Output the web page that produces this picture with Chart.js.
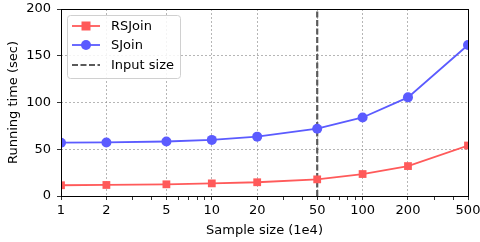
<!DOCTYPE html>
<html>
<head>
<meta charset="utf-8">
<script src="https://cdn.jsdelivr.net/npm/chart.js@4.4.1/dist/chart.umd.min.js"></script>
<style>
  html, body { margin: 0; padding: 0; background: #fff; }
  #wrap { position: relative; width: 480px; height: 242px; }
</style>
</head>
<body>
<div id="wrap"><canvas id="chart" width="480" height="242"></canvas></div>
<script>
// ---- data ----
const sampleSizes = [1, 2, 5, 10, 20, 50, 100, 200, 500];
const rsjoinTimes = [11.5, 11.8, 12.5, 13.5, 14.7, 17.8, 23.5, 32, 54];
const sjoinTimes  = [57, 57.3, 58.3, 60, 63.5, 72, 84, 105.5, 161.5];
const inputSize = 50;
const yRange = [0, 200];
const xTickLabels = [1, 2, 5, 10, 20, 50, 100, 200, 500];
const xMinorTicks = [3, 4, 6, 7, 8, 9, 30, 40, 60, 70, 80, 90, 300, 400];
const yTicks = [0, 50, 100, 150, 200];

const RED = '#ff5a5a';
const BLUE = '#5b5bff';
const GRAY = '#5a5a5a';
const FONT = "'DejaVu Sans', sans-serif";
const FS = 13;

const pts = (ys) => sampleSizes.map((x, i) => ({ x, y: ys[i] }));

// frame (all four spines) + legend with line+marker samples
const framePlugin = {
  id: 'frame',
  afterDraw(chart) {
    const { ctx, chartArea: a } = chart;
    ctx.save();
    ctx.strokeStyle = '#000';
    ctx.lineWidth = 1;
    ctx.strokeRect(Math.round(a.left) + 0.5, Math.round(a.top) + 0.5,
      Math.round(a.right - a.left), Math.round(a.bottom - a.top));

    // legend
    const bx = 67, by = 15, bw = 113, bh = 63;
    ctx.fillStyle = 'rgba(255,255,255,0.85)';
    ctx.strokeStyle = '#d0d0d0';
    ctx.beginPath();
    ctx.roundRect(bx + 0.5, by + 0.5, bw, bh, 3);
    ctx.fill();
    ctx.stroke();

    const rows = [26, 45, 65];
    chart.data.datasets.forEach((ds, i) => {
      const y = rows[i];
      ctx.save();
      ctx.strokeStyle = ds.borderColor;
      ctx.lineWidth = ds.borderWidth;
      ctx.setLineDash(ds.borderDash || []);
      ctx.beginPath();
      ctx.moveTo(72, y);
      ctx.lineTo(100, y);
      ctx.stroke();
      ctx.restore();
      if (ds.pointRadius > 0) {
        ctx.fillStyle = ds.backgroundColor;
        if (ds.pointStyle === 'rect') {
          ctx.fillRect(86 - 4.5, y - 4.5, 9, 9);
        } else {
          ctx.beginPath();
          ctx.arc(86, y, 5, 0, Math.PI * 2);
          ctx.fill();
        }
      }
      ctx.fillStyle = '#000';
      ctx.font = FS + 'px ' + FONT;
      ctx.textBaseline = 'middle';
      ctx.fillText(ds.label, 111, y + 1);
    });
    ctx.restore();
  }
};

new Chart(document.getElementById('chart'), {
  type: 'line',
  data: {
    datasets: [
      {
        label: 'RSJoin', data: pts(rsjoinTimes),
        borderColor: RED, backgroundColor: RED, borderWidth: 1.8,
        pointStyle: 'rect', pointRadius: 5.5, pointHoverRadius: 5.5, pointBorderWidth: 0,
        clip: 0
      },
      {
        label: 'SJoin', data: pts(sjoinTimes),
        borderColor: BLUE, backgroundColor: BLUE, borderWidth: 1.8,
        pointStyle: 'circle', pointRadius: 5, pointHoverRadius: 5, pointBorderWidth: 0,
        clip: 0
      },
      {
        label: 'Input size', data: [{ x: inputSize, y: yRange[0] }, { x: inputSize, y: yRange[1] }],
        borderColor: GRAY, backgroundColor: GRAY, borderWidth: 2.2, borderDash: [6, 2.5],
        pointRadius: 0, clip: 0
      }
    ]
  },
  plugins: [framePlugin],
  options: {
    responsive: false,
    animation: false,
    events: [],
    layout: { padding: { top: 9, right: 12, left: 0, bottom: 0 } },
    plugins: { legend: { display: false }, tooltip: { enabled: false } },
    scales: {
      x: {
        type: 'logarithmic', min: 1, max: 500,
        afterBuildTicks(scale) {
          scale.ticks = xTickLabels.concat(xMinorTicks).sort((a, b) => a - b)
            .map(v => ({ value: v, major: xTickLabels.includes(v) }));
        },
        afterFit(scale) { scale.height = 46; scale.paddingLeft = 0; scale.paddingRight = 0; },
        ticks: {
          autoSkip: false, maxRotation: 0, padding: 3,
          color: '#000', font: { family: FONT, size: FS },
          callback: (v) => xTickLabels.includes(v) ? String(v) : ''
        },
        grid: {
          color: (c) => (c.tick && xTickLabels.includes(c.tick.value)) ? 'rgba(140,140,140,0.8)' : 'rgba(0,0,0,0)',
          tickColor: '#000', lineWidth: 0.8, tickLength: 4
        },
        border: { display: false, dash: [2, 2] },
        title: { display: true, text: 'Sample size (1e4)', color: '#000', font: { family: FONT, size: FS }, padding: { top: 0, bottom: 4 } }
      },
      y: {
        min: yRange[0], max: yRange[1],
        afterBuildTicks(scale) { scale.ticks = yTicks.map(v => ({ value: v })); },
        afterFit(scale) { scale.width = 61; scale.paddingTop = 0; scale.paddingBottom = 0; },
        ticks: { color: '#000', font: { family: FONT, size: FS }, padding: 6 },
        grid: { color: 'rgba(140,140,140,0.8)', tickColor: '#000', lineWidth: 0.8, tickLength: 4 },
        border: { display: false, dash: [2, 2] },
        title: { display: true, text: 'Running time (sec)', color: '#000', font: { family: FONT, size: FS }, padding: { top: 6, bottom: 2 } }
      }
    }
  }
});
</script>
</body>
</html>
